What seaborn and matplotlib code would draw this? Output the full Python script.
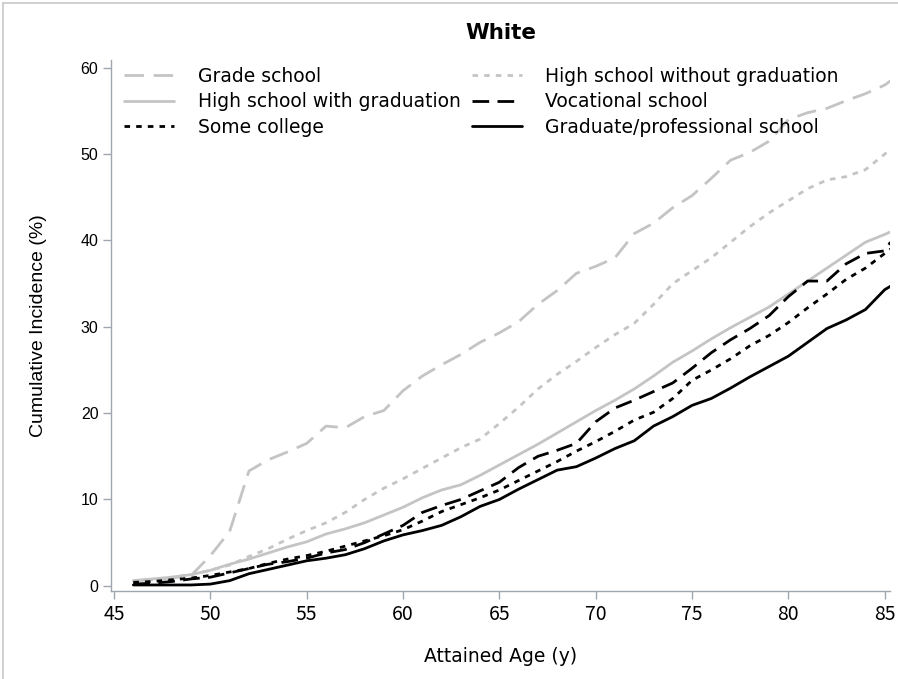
import numpy as np
import pandas as pd
import seaborn as sns
import matplotlib
matplotlib.use("Agg")
import matplotlib.pyplot as plt
from matplotlib.lines import Line2D

# Attained age (years)
ages = [46, 47, 48, 49, 50, 51, 52, 53, 54, 55, 56, 57, 58, 59, 60,
        61, 62, 63, 64, 65, 66, 67, 68, 69, 70, 71, 72, 73, 74, 75,
        76, 77, 78, 79, 80, 81, 82, 83, 84, 85, 85.3]

# Cumulative incidence (%) by education level
grade_school = [0.6, 0.7, 0.9, 1.2, 3.5, 6.3, 13.3, 14.6, 15.5, 16.5, 18.5,
                18.3, 19.6, 20.3, 22.6, 24.3, 25.6, 26.8, 28.2, 29.3, 30.6,
                32.6, 34.2, 36.2, 37.0, 38.0, 40.8, 42.0, 43.8, 45.2, 47.2,
                49.3, 50.2, 51.5, 54.0, 54.8, 55.3, 56.2, 57.0, 58.0, 58.5]
hs_no_grad = [0.5, 0.7, 1.0, 1.3, 1.8, 2.4, 3.4, 4.3, 5.4, 6.4, 7.3,
              8.5, 10.0, 11.3, 12.4, 13.6, 14.8, 16.0, 17.0, 18.8, 20.7,
              22.8, 24.5, 26.0, 27.6, 29.1, 30.4, 32.6, 35.0, 36.5, 38.0,
              39.8, 41.6, 43.2, 44.6, 46.0, 47.0, 47.4, 48.2, 50.0, 50.6]
hs_grad = [0.6, 0.8, 1.0, 1.3, 1.8, 2.5, 3.1, 3.8, 4.5, 5.1, 6.0,
           6.6, 7.3, 8.2, 9.1, 10.2, 11.1, 11.7, 12.8, 14.0, 15.2,
           16.4, 17.7, 19.0, 20.3, 21.5, 22.8, 24.3, 25.9, 27.2, 28.6,
           29.9, 31.1, 32.3, 33.8, 35.3, 36.8, 38.3, 39.8, 40.7, 41.0]
vocational = [0.2, 0.3, 0.5, 0.8, 1.0, 1.5, 2.0, 2.5, 2.8, 3.2, 3.8,
              4.2, 5.0, 6.0, 7.0, 8.5, 9.3, 10.0, 11.0, 12.0, 13.7,
              15.0, 15.7, 16.5, 19.0, 20.6, 21.5, 22.5, 23.5, 25.2, 27.0,
              28.5, 29.8, 31.3, 33.5, 35.3, 35.3, 37.3, 38.5, 38.8, 39.8]
some_college = [0.4, 0.5, 0.7, 0.9, 1.2, 1.6, 2.0, 2.6, 3.1, 3.5, 4.0,
                4.6, 5.2, 5.8, 6.5, 7.5, 8.6, 9.4, 10.2, 11.1, 12.2,
                13.3, 14.4, 15.6, 16.7, 17.9, 19.2, 20.1, 21.7, 23.8, 25.0,
                26.3, 27.8, 29.0, 30.5, 32.2, 33.8, 35.5, 36.8, 38.5, 39.0]
graduate = [0.1, 0.1, 0.1, 0.1, 0.2, 0.6, 1.4, 1.9, 2.4, 2.9, 3.2,
            3.6, 4.3, 5.2, 5.9, 6.4, 7.0, 8.0, 9.2, 10.0, 11.2,
            12.3, 13.4, 13.8, 14.8, 15.9, 16.8, 18.5, 19.6, 20.9, 21.7,
            22.9, 24.2, 25.4, 26.6, 28.2, 29.8, 30.8, 32.0, 34.3, 34.7]

levels = ["Grade school", "High school without graduation",
          "High school with graduation", "Vocational school",
          "Some college", "Graduate/professional school"]
series = [grade_school, hs_no_grad, hs_grad, vocational, some_college, graduate]

x_ticks = [45, 50, 55, 60, 65, 70, 75, 80, 85]
y_ticks = [0, 10, 20, 30, 40, 50, 60]

df = pd.concat(
    [pd.DataFrame({"age": ages, "incidence": vals, "level": name})
     for name, vals in zip(levels, series)],
    ignore_index=True,
)

light = "#c4c4c4"
palette = {
    "Grade school": light,
    "High school without graduation": light,
    "High school with graduation": light,
    "Vocational school": "black",
    "Some college": "black",
    "Graduate/professional school": "black",
}
dashes = {
    "Grade school": (7, 3.5),
    "High school without graduation": (2, 2.2),
    "High school with graduation": "",
    "Vocational school": (6, 3),
    "Some college": (2, 2.2),
    "Graduate/professional school": "",
}

sns.set_style("white")
plt.rcParams["font.family"] = ["DejaVu Sans"]
plt.rcParams["text.color"] = "black"
plt.rcParams["axes.labelcolor"] = "black"

fig = plt.figure(figsize=(8.98, 6.79), dpi=100)
ax = fig.add_axes([0.1236, 0.1296, 0.8674, 0.782])

sns.lineplot(data=df, x="age", y="incidence", hue="level", style="level",
             hue_order=levels, style_order=levels, palette=palette,
             dashes=dashes, linewidth=2.0, ax=ax, legend=False,
             estimator=None, sort=False)

ax.set_xlim(44.84, 85.27)
ax.set_ylim(-0.6, 60.9)
ax.set_xticks(x_ticks)
ax.set_xticklabels([str(t) for t in x_ticks], fontsize=14,
                   fontfamily=["Noto Sans CJK JP", "DejaVu Sans"])
ax.set_yticks(y_ticks)
ax.set_yticklabels([str(t) for t in y_ticks], fontsize=11.5,
                   fontfamily=["Liberation Sans", "DejaVu Sans"])

spine_col = "#a0a6ad"
for side in ["top", "right"]:
    ax.spines[side].set_visible(False)
for side in ["left", "bottom"]:
    ax.spines[side].set_color(spine_col)
    ax.spines[side].set_linewidth(1.0)
ax.tick_params(axis="both", direction="out", length=6, width=1.0,
               color=spine_col, labelcolor="black", pad=3,
               bottom=True, left=True)

ax.set_xlabel("Attained Age (y)", fontsize=13.5, labelpad=16)
ax.set_ylabel("Cumulative Incidence (%)", fontsize=14, labelpad=24,
              fontfamily=["Liberation Sans", "DejaVu Sans"])
ax.set_title("White", fontsize=15.5, fontweight="bold", pad=15)

# legend entries, laid out row by row in two columns
handles = {}
for n in levels:
    h = Line2D([], [], color=palette[n], linewidth=2.0)
    if dashes[n]:
        h.set_dashes(dashes[n])
    handles[n] = h
order = [levels[i] for i in (0, 2, 4, 1, 3, 5)]
leg = ax.legend([handles[n] for n in order], order, loc="upper left", ncol=2,
                frameon=False, fontsize=13.5, handlelength=2.67,
                handletextpad=1.25, columnspacing=0.6, labelspacing=0.35,
                bbox_to_anchor=(0.0, 1.012), borderaxespad=0.3)

# thin frame around the figure's top-left edges
fig.add_artist(Line2D([0.0035, 0.0035], [0, 0.996], transform=fig.transFigure,
                      color="#c8c8c8", linewidth=1.2))
fig.add_artist(Line2D([0.0035, 1.0], [0.996, 0.996], transform=fig.transFigure,
                      color="#c8c8c8", linewidth=1.2))

fig.savefig("out.png", dpi=100)
